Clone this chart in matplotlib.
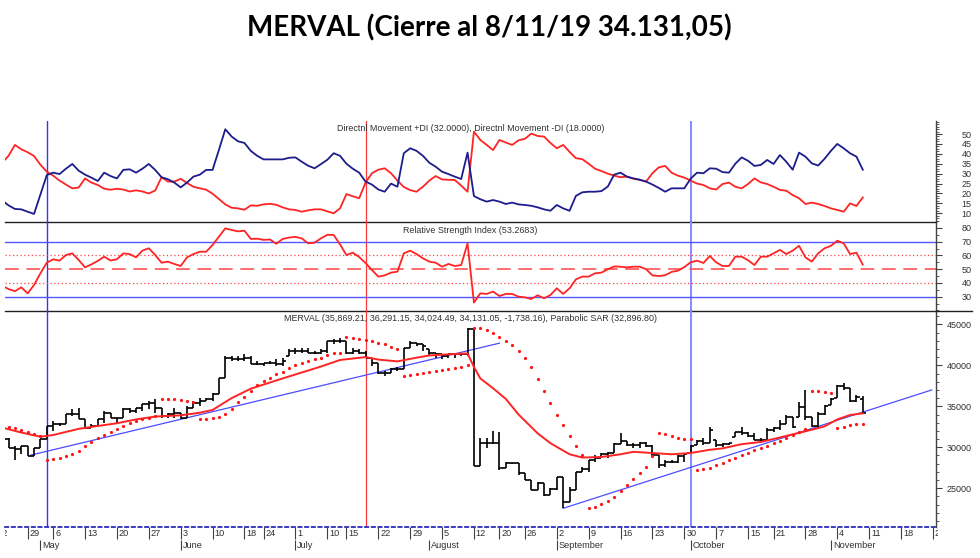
import numpy as np
import matplotlib
matplotlib.use("Agg")
import matplotlib.pyplot as plt
from matplotlib.ticker import MultipleLocator
from matplotlib.lines import Line2D
from matplotlib.transforms import offset_copy

# ---------------- data (trading-day index based) ----------------
idx = list(range(1, 137))

opens = [31200, 30972, 29955, 29752, 30159, 28939, 29955, 30972, 32597, 32801,
         32801, 34020, 34020, 33410, 32394, 32597, 33410, 34224, 33614, 33614,
         34630, 34427, 34833, 35240, 35443, 34833, 33817, 34020, 34224, 33614,
         34833, 35443, 35646, 35850, 36541, 38492, 40931, 40728, 40728, 40931,
         40118, 40118, 40321, 40321, 40118, 41134, 41744, 41744, 41744, 41541,
         41541, 41744, 42963, 42963, 42963, 41541, 41744, 41541, 40931, 40321,
         39101, 39101, 39508, 39508, 42150, 42760, 42557, 41947, 41541, 41338,
         41134, 41338, 41338, 41419, 44386, 27720, 30565, 30565, 30565, 27435,
         28045, 28045, 26825, 26012, 24793, 25605, 24183, 24874, 26337, 23370,
         24793, 27028, 27313, 28451, 28654, 29183, 29346, 30402, 30768, 30280,
         30280, 30565, 30158, 29061, 27841, 28248, 28248, 28980, 29264, 30280,
         30809, 30483, 30890, 30280, 30402, 31297, 31825, 31784, 31378, 30890,
         30890, 32109, 32313, 32841, 33736, 33736, 34874, 33736, 32597, 34061,
         35158, 35971, 37475, 37191, 35646, 35869]
highs = [31400, 31175, 30159, 30159, 30159, 29955, 30972, 32597, 33207, 33004,
         34020, 34630, 34833, 33410, 32801, 33410, 34427, 34224, 33614, 34833,
         34833, 34833, 35240, 35646, 35850, 34833, 34224, 34833, 34224, 35036,
         35646, 35971, 36053, 36663, 38492, 41134, 41134, 41134, 41338, 41134,
         40524, 40321, 40524, 40728, 40931, 41947, 42150, 42150, 42150, 41744,
         41947, 42963, 43167, 43370, 42963, 42150, 41947, 41744, 40931, 40321,
         39305, 39630, 39793, 42150, 42963, 42760, 42557, 41947, 41541, 41338,
         41419, 41541, 41541, 44590, 44590, 31175, 31175, 31988, 31906, 28248,
         28126, 28045, 26825, 26012, 25808, 25605, 24996, 26419, 26419, 25199,
         27028, 27638, 28451, 29061, 29264, 29468, 30483, 31784, 30768, 30483,
         30687, 30687, 30280, 29061, 28451, 28451, 29061, 29264, 30280, 30890,
         31094, 32516, 30890, 30483, 30565, 31906, 32516, 31906, 31703, 31094,
         32313, 32516, 33329, 33939, 33736, 35565, 36987, 33736, 34345, 35158,
         35971, 37597, 37800, 37191, 36378, 36291]
lows = [30800, 29874, 28451, 29142, 28939, 28939, 29955, 30972, 31988, 32597,
        32801, 33817, 33410, 32191, 32313, 32597, 33004, 33614, 33004, 33614,
        34224, 34224, 34427, 34630, 34224, 33614, 33614, 33614, 33410, 33614,
        34833, 35036, 35646, 35646, 36460, 38492, 40524, 40524, 40524, 40118,
        40037, 39915, 40118, 39915, 39915, 41134, 41338, 41541, 41541, 41338,
        41338, 41541, 42557, 42760, 41338, 41338, 41338, 40931, 39915, 38899,
        38695, 39101, 39305, 39508, 42150, 42354, 41744, 41134, 40931, 40728,
        40931, 40931, 41134, 41134, 27720, 27720, 29955, 30362, 27231, 27435,
        27963, 26622, 26012, 24793, 24793, 24061, 24183, 24793, 22557, 23370,
        24793, 27028, 27028, 28248, 28654, 28654, 29264, 30402, 30199, 29874,
        29874, 30077, 28857, 27435, 27638, 28045, 28045, 28248, 29264, 30280,
        30280, 30483, 30077, 30077, 30280, 31297, 31500, 31297, 30890, 30687,
        30890, 31906, 32109, 32841, 32313, 33736, 33329, 32516, 32313, 33939,
        35158, 35971, 36987, 35565, 35565, 34024]
closes = [31000, 29955, 29752, 30159, 28939, 29955, 30972, 32597, 32801, 32801,
          34020, 34020, 33410, 32394, 32597, 33410, 34224, 33614, 33614, 34630,
          34427, 34833, 35240, 35443, 34833, 33817, 34020, 34224, 33614, 34833,
          35443, 35646, 35850, 36541, 38492, 40931, 40728, 40728, 40931, 40118,
          40118, 40321, 40321, 40118, 40524, 41744, 41744, 41744, 41541, 41541,
          41744, 42963, 42963, 42963, 41541, 41744, 41541, 40931, 40321, 39101,
          39101, 39508, 39508, 42150, 42760, 42557, 42354, 41541, 41338, 41134,
          41338, 41338, 41419, 44386, 27720, 30565, 30565, 30565, 27435, 28045,
          28045, 26825, 26012, 24793, 25605, 24183, 24874, 26337, 23370, 24793,
          27028, 27313, 28451, 28654, 29183, 29346, 30402, 30768, 30280, 30280,
          30565, 30158, 29061, 27841, 28248, 28248, 28980, 29183, 30199, 30809,
          30483, 32109, 30280, 30402, 30483, 31825, 31784, 31378, 30890, 30890,
          32109, 32313, 32841, 33736, 32516, 34874, 33736, 32597, 34061, 35036,
          35890, 37475, 37191, 35646, 36174, 34131]

sar = [32720, 32516, 32313, 32110, 31907, 31663, 31378, 28451, 28573, 28736,
       28939, 29142, 29549, 30159, 30647, 31094, 31500, 31907, 32273, 32597,
       32923, 33208, 33410, 33614, 33817, 35931, 35890, 35850, 35768, 35646,
       35525, 33410, 33410, 33532, 33695, 34020, 34630, 35565, 36134, 36866,
       37598, 38086, 38492, 38899, 39223, 39630, 39996, 40321, 40524, 40728,
       40931, 41216, 41460, 41541, 43451, 43370, 43207, 43045, 42923, 42760,
       42557, 42272, 41947, 38695, 38776, 38899, 39020, 39142, 39305, 39427,
       39590, 39712, 39834, 39996, 44600, 44550, 44300, 43950, 43500, 43000,
       42450, 41800, 40930, 39780, 38290, 36870, 35380, 33980, 32680, 31340,
       30180, 29080, 22640, 22760, 23045, 23451, 23939, 24671, 25402, 26094,
       26826, 27598, 28939, 31703, 31581, 31378, 31175, 31053, 30972, 27250,
       27350, 27517, 27842, 28126, 28411, 28736, 29061, 29346, 29630, 29915,
       30199, 30484, 30768, 31094, 31460, 31907, 32191, 36866, 36866, 36740,
       36581, 32394, 32475, 32680, 32800, 32897]

ma_idx = [1, 4, 7, 9, 13, 16, 19, 22, 25, 29, 32, 34, 35, 37, 40, 45, 51, 54,
          58, 60, 63, 66, 68, 71, 74, 75, 76, 78, 80, 82, 85, 87, 90, 92, 95,
          98, 100, 103, 106, 109, 112, 114, 117, 120, 123, 127, 130, 132, 134, 136]
ma_val = [32400, 31800, 31290, 31500, 32250, 32600, 32930, 33400, 33750, 33900,
          34220, 34550, 35040, 36000, 37150, 38400, 39850, 40650, 41000, 40700,
          40480, 40930, 41200, 41340, 41450, 39800, 38400, 37200, 35900, 34000,
          31700, 30500, 29150, 28750, 28820, 29150, 29450, 29300, 29150, 29300,
          29700, 29870, 30380, 30650, 31200, 31950, 32550, 33400, 33940, 34140]

plus_di = [16.5, 14.0, 12.2, 12.0, 10.8, 9.7, 19.5, 29.3, 30.5, 29.8, 32.5, 34.9,
           31.5, 29.5, 28.0, 26.3, 30.5, 28.8, 27.6, 31.9, 32.2, 30.5, 32.5, 34.9,
           31.9, 28.2, 27.2, 25.5, 23.1, 25.5, 28.5, 29.5, 31.9, 31.9, 42.0, 52.4,
           48.7, 46.3, 45.5, 41.5, 39.0, 37.2, 37.2, 37.2, 37.2, 38.0, 38.2, 36.0,
           34.0, 32.7, 34.8, 37.0, 40.3, 39.0, 35.0, 32.5, 30.5, 26.0, 24.5, 22.0,
           20.9, 25.0, 23.4, 40.3, 42.8, 41.5, 39.0, 35.5, 33.5, 31.0, 29.8, 28.5,
           27.3, 40.6, 18.7, 17.1, 15.9, 16.7, 15.9, 14.7, 15.4, 14.5, 14.2, 13.8,
           13.0, 12.0, 11.3, 14.2, 12.5, 11.3, 18.8, 20.6, 20.9, 20.9, 21.2, 23.5,
           29.5, 30.5, 28.5, 27.6, 27.0, 26.0, 24.5, 22.8, 20.9, 22.6, 22.6, 22.6,
           27.5, 30.5, 30.2, 32.7, 32.5, 30.8, 30.5, 35.0, 38.2, 36.5, 33.9, 34.4,
           36.9, 34.9, 39.4, 36.0, 32.0, 40.6, 38.6, 35.2, 34.1, 37.5, 41.5, 45.0,
           42.8, 40.3, 38.6, 32.0]
minus_di = [35.5, 39.0, 44.5, 42.3, 40.8, 38.9, 34.5, 31.0, 29.0, 26.5, 24.5, 22.6,
            23.0, 27.6, 25.5, 24.3, 22.4, 21.9, 22.4, 22.0, 21.0, 21.6, 21.0, 20.0,
            21.5, 28.2, 26.0, 26.0, 27.4, 25.3, 23.4, 22.6, 21.9, 19.9, 17.2, 14.5,
            12.8, 12.5, 11.8, 14.0, 13.8, 14.5, 14.8, 14.3, 13.0, 12.0, 11.7, 10.8,
            11.5, 12.0, 12.0, 11.0, 10.0, 12.5, 19.7, 18.6, 17.6, 25.5, 30.2, 32.0,
            32.7, 30.2, 26.5, 23.3, 21.7, 20.9, 23.4, 26.5, 28.8, 27.1, 26.9, 26.8,
            24.0, 20.9, 51.2, 47.0, 44.5, 41.9, 47.0, 45.7, 44.5, 46.8, 47.6, 50.2,
            49.0, 48.7, 45.5, 42.8, 44.5, 41.0, 37.8, 37.3, 35.0, 32.5, 31.3, 30.0,
            29.0, 28.2, 28.5, 27.5, 26.8, 26.0, 30.2, 33.2, 33.9, 30.5, 29.0, 28.0,
            26.5, 25.0, 24.3, 22.6, 22.0, 24.8, 25.5, 23.4, 22.6, 24.8, 27.6, 25.6,
            24.8, 23.4, 21.8, 21.4, 19.2, 17.6, 14.7, 15.4, 14.7, 13.7, 12.5, 11.7,
            10.8, 15.0, 13.7, 18.0]
rsi = [38.0, 35.5, 34.0, 36.8, 32.4, 38.5, 47.0, 54.7, 57.2, 56.2, 60.3, 61.5,
       56.7, 51.3, 53.5, 56.0, 59.1, 56.3, 57.2, 61.5, 61.0, 58.6, 63.5, 65.2,
       60.3, 54.7, 55.5, 53.8, 52.3, 58.6, 61.0, 62.7, 62.7, 67.6, 73.7, 79.7,
       78.5, 77.5, 78.0, 72.0, 72.2, 71.3, 71.6, 68.5, 72.0, 73.0, 73.5, 72.4,
       68.8, 69.3, 72.4, 75.0, 74.9, 68.0, 60.3, 62.0, 58.8, 54.5, 49.4, 44.6,
       45.5, 47.5, 48.2, 61.5, 63.5, 61.0, 57.9, 55.5, 54.7, 51.8, 53.8, 52.3,
       53.0, 68.8, 25.7, 32.4, 32.0, 33.7, 30.5, 32.0, 32.0, 30.0, 29.5, 28.3,
       31.0, 28.8, 31.2, 36.1, 32.0, 36.1, 42.6, 44.6, 44.6, 47.0, 47.5, 49.9,
       52.0, 51.8, 51.3, 51.8, 51.8, 50.0, 45.5, 45.0, 45.6, 48.0, 48.9, 51.5,
       55.0, 56.2, 54.5, 59.6, 55.0, 52.3, 52.3, 59.1, 59.1, 56.5, 53.0, 59.1,
       59.1, 61.5, 64.0, 61.0, 63.5, 67.0, 58.6, 55.5, 61.5, 65.2, 67.0, 70.7,
       68.8, 61.0, 62.0, 53.3]

trend_x = [[5.5, 79.0], [89.0, 146.8]]
trend_y = [[29050, 42700], [22560, 36990]]
marker_lines = [8, 58, 109]

day_ticks = [0, 5, 9, 14, 19, 24, 29, 34, 39, 42, 47, 52, 55, 60, 65, 70, 75, 79,
             83, 88, 93, 98, 103, 108, 113, 118, 122, 127, 132, 137, 142, 147]
day_labels = ['22', '29', '6', '13', '20', '27', '3', '10', '18', '24', '1', '10',
              '15', '22', '29', '5', '12', '20', '26', '2', '9', '16', '23', '30',
              '7', '15', '21', '28', '4', '11', '18', '25']
month_ticks = [7, 29, 47, 68, 88, 109, 131]
month_labels = ['May', 'June', 'July', 'August', 'September', 'October', 'November']

TITLE = 'MERVAL (Cierre al 8/11/19 34.131,05)'
DMI_LABEL = 'Directnl Movement +DI (32.0000), Directnl Movement -DI (18.0000)'
RSI_LABEL = 'Relative Strength Index (53.2683)'
PX_LABEL = ('MERVAL (35,869.21, 36,291.15, 34,024.49, 34,131.05, -1,738.16), '
            'Parabolic SAR (32,896.80)')

# ---------------- layout ----------------
W, H = 980, 558
fig = plt.figure(figsize=(W / 100, H / 100), dpi=100)
fig.patch.set_facecolor('white')

def box(x0, y0, x1, y1):
    return [x0 / W, 1 - y1 / H, (x1 - x0) / W, (y1 - y0) / H]

PX0, PXD = -4.2, 6.375          # pixel of day 0, pixels per day
def px2idx(p):
    return (p - PX0) / PXD

XL, XR = 5, 935.7
xlim = (px2idx(XL), px2idx(XR))

FONT = ['Liberation Sans', 'DejaVu Sans']
TXT_C = '#303030'
RED = '#ff2424'
NAVY = '#1c1c8c'

ax_dmi = fig.add_axes(box(XL, 121, XR, 222.3))
ax_rsi = fig.add_axes(box(XL, 222.3, XR, 310.7))
ax_px = fig.add_axes(box(XL, 310.7, XR, 527))
ax_dt = fig.add_axes(box(XL, 527, 938, 552))

def style(ax, ylim, majors, minor_step):
    ax.set_xlim(*xlim)
    ax.set_ylim(*ylim)
    ax.set_facecolor('none')
    for s in ['left', 'top', 'bottom']:
        ax.spines[s].set_visible(False)
    ax.spines['right'].set_color('#404040')
    ax.spines['right'].set_linewidth(1.0)
    ax.set_xticks([])
    ax.yaxis.tick_right()
    ax.set_yticks(majors)
    ax.set_yticklabels([str(m) for m in majors], fontsize=6.5, family=FONT,
                       color=TXT_C, ha='right')
    ax.yaxis.set_minor_locator(MultipleLocator(minor_step))
    ax.tick_params(axis='y', which='major', direction='out', length=4,
                   width=0.8, color='#404040', pad=21.8)
    ax.tick_params(axis='y', which='minor', direction='out', length=2.5,
                   width=0.6, color='#404040')

style(ax_dmi, (5.47, 56.56), list(range(10, 51, 5)), 1.25)
style(ax_rsi, (19.8, 84.1), list(range(30, 81, 10)), 5)
style(ax_px, (20280, 46659), list(range(25000, 45001, 5000)), 1000)

for ax in (ax_dmi, ax_rsi):
    ax.spines['bottom'].set_visible(True)
    ax.spines['bottom'].set_color('#202020')
    ax.spines['bottom'].set_linewidth(1.0)
    ax.spines['bottom'].set_zorder(6)
ax_px.spines['bottom'].set_visible(True)
ax_px.spines['bottom'].set_color('#1a1ab4')
ax_px.spines['bottom'].set_linewidth(1.2)
ax_px.spines['bottom'].set_linestyle((0, (2, 2)))

fig.add_artist(Line2D([XR / W, 972 / W], [1 - 310.7 / H, 1 - 310.7 / H],
                      color='#202020', lw=1.0))

# vertical marker lines
for ax in (ax_dmi, ax_rsi, ax_px):
    ax.axvline(marker_lines[0], color='#3434ff', lw=1.0, zorder=1)
    ax.axvline(marker_lines[1], color='#ff3a3a', lw=0.9, zorder=1)
    ax.axvline(marker_lines[2], color='#8c8cff', lw=1.5, zorder=1)

# DMI
ax_dmi.plot(idx, minus_di, color=RED, lw=1.3, zorder=3)
ax_dmi.plot(idx, plus_di, color=NAVY, lw=1.3, zorder=3)

# RSI
ax_rsi.axhline(70, color='#5656ff', lw=1.0, zorder=1)
ax_rsi.axhline(30, color='#5656ff', lw=1.0, zorder=1)
ax_rsi.axhline(60, color='#ff4646', lw=0.9, ls=(0, (1, 2)), zorder=1)
ax_rsi.axhline(40, color='#ff4646', lw=0.9, ls=(0, (1, 2)), zorder=1)
ax_rsi.axhline(50, color='#ff4646', lw=1.1, ls=(0, (9, 5)), zorder=1)
ax_rsi.plot(idx, rsi, color=RED, lw=1.3, zorder=3)

# Price: OHLC bars
ix = np.array(idx, dtype=float)
ax_px.vlines(ix, lows, highs, color='black', lw=1.2, zorder=3)
ax_px.hlines(opens, ix - 0.5, ix, color='black', lw=1.2, zorder=3)
ax_px.hlines(closes, ix, ix + 0.5, color='black', lw=1.2, zorder=3)
ax_px.plot(ma_idx, ma_val, color=RED, lw=1.4, zorder=4)
ax_px.plot(idx, sar, ls='none', marker='o', ms=2.3, mew=0, color='#ff1414', zorder=4)
for tx, ty in zip(trend_x, trend_y):
    ax_px.plot(tx, ty, color='#4c4cff', lw=0.9, zorder=2)

# panel labels
for ax, lab in ((ax_dmi, DMI_LABEL), (ax_rsi, RSI_LABEL), (ax_px, PX_LABEL)):
    tr = offset_copy(ax.transAxes, fig=fig, x=0, y=-7.8, units='dots')
    ax.text(0.5, 1.0, lab, transform=tr, ha='center', va='center',
            fontsize=6.4, family=FONT, color=TXT_C, zorder=5)

# date axis
ax_dt.set_xlim(px2idx(XL), px2idx(938))
ax_dt.set_ylim(552, 527)
ax_dt.axis('off')
ax_dt.vlines(day_ticks, 527, 538.5, color='#404040', lw=0.8)
ax_dt.vlines(month_ticks, 539.5, 549.5, color='#404040', lw=0.8)
for t, lab in zip(day_ticks, day_labels):
    ax_dt.text(t + 0.3, 533, lab, ha='left', va='center', fontsize=6.6,
               family=FONT, color=TXT_C, clip_on=True)
for t, lab in zip(month_ticks, month_labels):
    ax_dt.text(t + 0.3, 545, lab, ha='left', va='center', fontsize=6.6,
               family=FONT, color=TXT_C, clip_on=True)

# title
fig.text(489 / W, 1 - 28 / H, TITLE, ha='center', va='center', fontsize=20,
         fontweight='bold', family=['Lato', 'DejaVu Sans'], color='black')

fig.savefig('out.png', dpi=100, facecolor='white')
